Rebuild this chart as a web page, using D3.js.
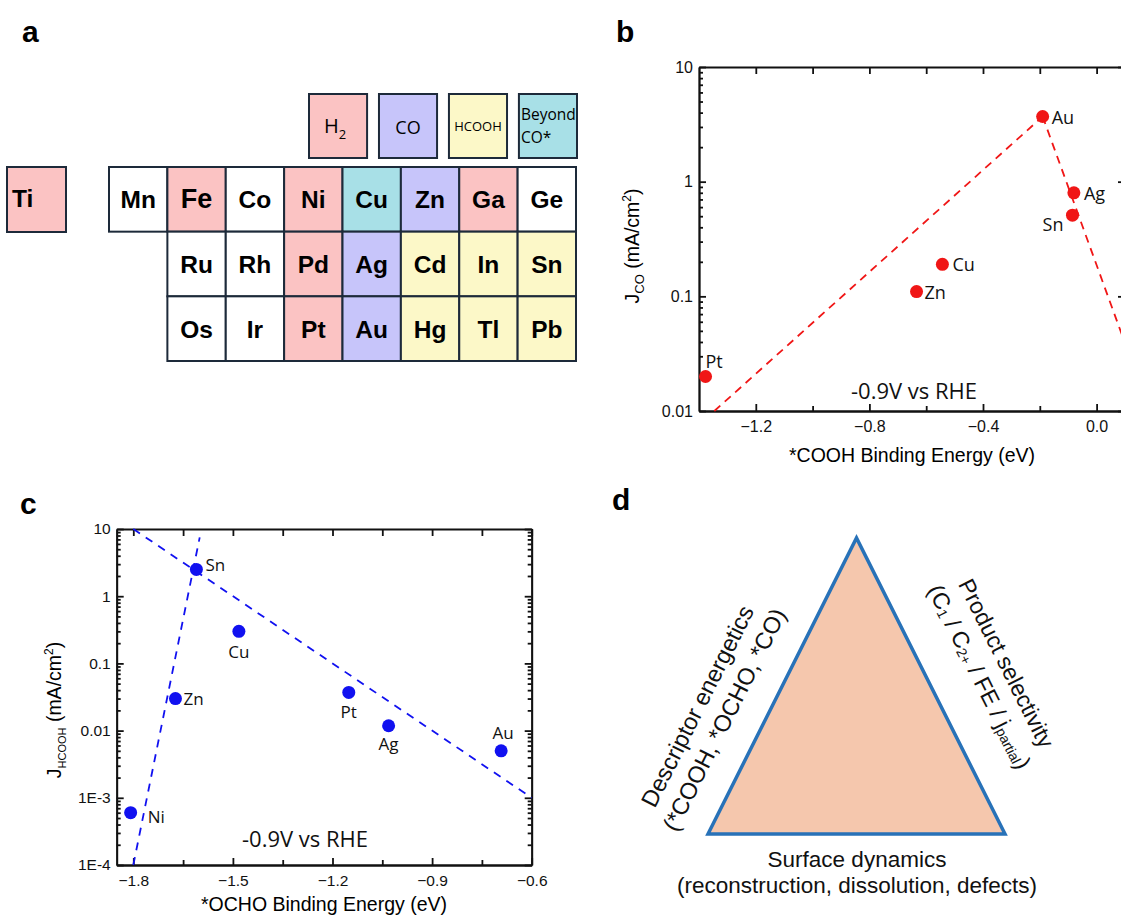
<!DOCTYPE html>
<html>
<head>
<meta charset="utf-8">
<script src="https://cdn.jsdelivr.net/npm/d3@7"></script>
<style>
  body { margin: 0; background: #fff; }
  svg { display: block; font-family: "Liberation Sans", Arial, sans-serif; }
  .axis path, .axis line { stroke: #111; stroke-width: 1.8; }
  .axis text { fill: #111; font-family: "Liberation Sans", Arial, sans-serif; }
  .lbl { font-family: "Open Sans", sans-serif; fill: #111; }
</style>
</head>
<body>
<div id="chart"></div>
<script>
// ---- panel a : periodic table ----
const productNames = ["H2", "CO", "HCOOH", "Beyond CO*"];
const productColors = ["#fbc3c3", "#c7c5fa", "#fcf8c8", "#a8e0e7"];
const tableRows = [
  ["Mn", "Fe", "Co", "Ni", "Cu", "Zn", "Ga", "Ge"],
  ["", "Ru", "Rh", "Pd", "Ag", "Cd", "In", "Sn"],
  ["", "Os", "Ir", "Pt", "Au", "Hg", "Tl", "Pb"]
];
const tableProducts = [
  [null, "H2", null, "H2", "Beyond CO*", "CO", "H2", null],
  [null, null, null, "H2", "CO", "HCOOH", "HCOOH", "HCOOH"],
  [null, null, null, "H2", "CO", "HCOOH", "HCOOH", "HCOOH"]
];
const sideElement = "Ti";
const sideProduct = "H2";

// ---- panel b : CO partial current vs *COOH binding ----
const coMetals = ["Au", "Ag", "Sn", "Cu", "Zn", "Pt"];
const coBinding = [-0.19, -0.08, -0.085, -0.543, -0.634, -1.377];
const coCurrent = [3.7, 0.80, 0.51, 0.19, 0.11, 0.020];
const coTrendX = [[-1.346, -0.19], [-0.19, 0.1]];
const coTrendY = [[0.01, 3.7], [3.7, 0.039]];
const coXTicks = [-1.2, -0.8, -0.4, 0.0];
const coYTicks = [0.01, 0.1, 1, 10];
const coYTickLabels = ["0.01", "0.1", "1", "10"];

// ---- panel c : HCOOH partial current vs *OCHO binding ----
const hcMetals = ["Sn", "Cu", "Zn", "Ni", "Pt", "Ag", "Au"];
const ochoBinding = [-1.61, -1.482, -1.673, -1.808, -1.151, -1.031, -0.692];
const hcCurrent = [2.5, 0.30, 0.030, 0.0006, 0.037, 0.0118, 0.005];
const hcTrendX = [[-1.8, -0.6], [-1.8, -1.60]];
const hcTrendY = [[10, 0.001], [0.0001, 7.5]];
const hcXTicks = [-1.8, -1.5, -1.2, -0.9, -0.6];
const hcYTicks = [0.0001, 0.001, 0.01, 0.1, 1, 10];
const hcYTickLabels = ["1E-4", "1E-3", "0.01", "0.1", "1", "10"];

const W = 1121, H = 916;
const svg = d3.select("#chart").append("svg")
  .attr("width", W).attr("height", H);

// panel letters
[["a", 22, 42], ["b", 616, 42], ["c", 20, 514], ["d", 612, 510]].forEach(p => {
  svg.append("text").attr("x", p[1]).attr("y", p[2])
    .attr("font-size", 30).attr("font-weight", "bold").text(p[0]);
});

// ================= panel a =================
const colorOf = d3.scaleOrdinal().domain(productNames).range(productColors);
const cellStroke = "#1d2a3a";

const legX = d3.scaleBand().domain(productNames).range([309, 577]).paddingInner(0.17);
const leg = svg.append("g").selectAll("g").data(productNames).enter().append("g")
  .attr("transform", d => "translate(" + legX(d) + ",94)");
leg.append("rect")
  .attr("width", legX.bandwidth()).attr("height", 64)
  .attr("fill", d => colorOf(d)).attr("stroke", cellStroke).attr("stroke-width", 2);

const bw = legX.bandwidth();
let t = leg.filter(d => d == "H2").append("text").attr("x", bw / 2 - 3).attr("y", 39)
  .attr("text-anchor", "middle").attr("font-size", 20).attr("font-family", "Open Sans");
t.append("tspan").text("H");
t.append("tspan").attr("dy", 6).attr("font-size", 13).text("2");
leg.filter(d => d == "CO").append("text").attr("x", bw / 2).attr("y", 40)
  .attr("text-anchor", "middle").attr("font-size", 18).attr("font-family", "Open Sans").text("CO");
leg.filter(d => d == "HCOOH").append("text").attr("x", bw / 2).attr("y", 37)
  .attr("text-anchor", "middle").attr("font-size", 13).attr("font-family", "Open Sans").text("HCOOH");
t = leg.filter(d => d == "Beyond CO*").append("text").attr("font-size", 15.5).attr("font-family", "Open Sans");
t.append("tspan").attr("x", 2).attr("y", 26).text("Beyond");
t.append("tspan").attr("x", 2).attr("y", 49).text("CO*");

const colX = d3.scaleBand().domain(d3.range(8)).range([109, 576]);
const rowY = d3.scaleBand().domain(d3.range(3)).range([167, 361]);
const cells = [];
tableRows.forEach((row, r) => row.forEach((el, c) => {
  if (el) cells.push({ el: el, r: r, c: c, p: tableProducts[r][c] });
}));
const cell = svg.append("g").selectAll("g").data(cells).enter().append("g")
  .attr("transform", d => "translate(" + colX(d.c) + "," + rowY(d.r) + ")");
cell.append("rect")
  .attr("width", colX.bandwidth()).attr("height", rowY.bandwidth())
  .attr("fill", d => d.p ? colorOf(d.p) : "#fff")
  .attr("stroke", cellStroke).attr("stroke-width", 2);
cell.append("text")
  .attr("x", colX.bandwidth() / 2).attr("y", rowY.bandwidth() / 2 + 9)
  .attr("text-anchor", "middle")
  .attr("font-size", d => d.el == "Fe" ? 27 : 24.5).attr("font-weight", "bold")
  .text(d => d.el);

const side = svg.append("g").attr("transform", "translate(7,167)");
side.append("rect").attr("width", 59).attr("height", 65)
  .attr("fill", colorOf(sideProduct)).attr("stroke", cellStroke).attr("stroke-width", 2);
side.append("text").attr("x", 5).attr("y", 40)
  .attr("font-size", 24.5).attr("font-weight", "bold").text(sideElement);

// ================= scatter panels =================
function minorLogTicks(domain) {
  const out = [];
  const lo = Math.round(Math.log10(domain[0])), hi = Math.round(Math.log10(domain[1]));
  for (let e = lo; e < hi; e++) {
    for (let k = 2; k <= 9; k++) out.push(k * Math.pow(10, e));
  }
  return out;
}

function drawPlot(o) {
  const g = svg.append("g");
  const x = d3.scaleLinear().domain(o.xDomain).range(o.xRange);
  const y = d3.scaleLog().domain(o.yDomain).range(o.yRange);
  const [x0, x1] = o.xRange, [y0, y1] = o.yRange;

  // bottom axis with labels
  g.append("g").attr("class", "axis").attr("transform", "translate(0," + y0 + ")")
    .call(d3.axisBottom(x).tickValues(o.xTicks).tickSize(-7).tickSizeOuter(0)
      .tickPadding(10).tickFormat(d3.format(".1f")))
    .call(a => a.attr("font-size", o.tickFont).selectAll("text").attr("font-size", o.tickFont));
  g.append("g").attr("class", "axis").attr("transform", "translate(0," + y0 + ")")
    .call(d3.axisBottom(x).tickValues(o.xMinor).tickSize(-5).tickSizeOuter(0).tickFormat(""));
  // top axis
  g.append("g").attr("class", "axis").attr("transform", "translate(0," + y1 + ")")
    .call(d3.axisTop(x).tickValues(o.xTicks.concat(o.xMinor)).tickSize(-7).tickSizeOuter(0).tickFormat(""));

  // left axis
  g.append("g").attr("class", "axis").attr("transform", "translate(" + x0 + ",0)")
    .call(d3.axisLeft(y).tickValues(o.yTicks).tickSize(-7).tickSizeOuter(0).tickPadding(6)
      .tickFormat((d, i) => o.yTickLabels[i]))
    .call(a => a.attr("font-size", o.tickFont).selectAll("text").attr("font-size", o.tickFont));
  g.append("g").attr("class", "axis").attr("transform", "translate(" + x0 + ",0)")
    .call(d3.axisLeft(y).tickValues(minorLogTicks(o.yDomain)).tickSize(-4).tickSizeOuter(0).tickFormat(""));
  // right axis
  g.append("g").attr("class", "axis").attr("transform", "translate(" + x1 + ",0)")
    .call(d3.axisRight(y).tickValues(o.yTicks).tickSize(-7).tickSizeOuter(0).tickFormat(""));
  g.append("g").attr("class", "axis").attr("transform", "translate(" + x1 + ",0)")
    .call(d3.axisRight(y).tickValues(minorLogTicks(o.yDomain)).tickSize(-4).tickSizeOuter(0).tickFormat(""));

  // trend lines
  const line = d3.line().x(d => x(d[0])).y(d => y(d[1]));
  o.trendX.forEach((tx, i) => {
    g.append("path")
      .attr("d", line(tx.map((v, j) => [v, o.trendY[i][j]])))
      .attr("fill", "none").attr("stroke", o.color).attr("stroke-width", 1.8)
      .attr("stroke-dasharray", o.dash);
  });

  // points
  const pts = o.names.map((n, i) => ({ n: n, x: o.xs[i], y: o.ys[i], off: o.labelOff[i] }));
  g.selectAll("circle.pt").data(pts).enter().append("circle")
    .attr("cx", d => x(d.x)).attr("cy", d => y(d.y)).attr("r", o.r)
    .attr("fill", o.color);
  g.selectAll("text.pl").data(pts).enter().append("text")
    .attr("class", "lbl")
    .attr("x", d => x(d.x) + d.off[0]).attr("y", d => y(d.y) + d.off[1])
    .attr("text-anchor", d => d.off[2]).attr("dominant-baseline", "central")
    .attr("font-size", o.labelFont).text(d => d.n);

  // condition note
  g.append("text").attr("class", "lbl")
    .attr("x", o.note[0]).attr("y", o.note[1]).attr("text-anchor", "middle")
    .attr("dominant-baseline", "central").attr("font-size", 22).text("-0.9V vs RHE");

  // axis titles
  g.append("text").attr("x", o.xTitlePos[0]).attr("y", o.xTitlePos[1])
    .attr("text-anchor", "middle").attr("font-size", 19.5).text(o.xTitle);
  const yt = g.append("text")
    .attr("transform", "translate(" + o.yTitlePos[0] + "," + o.yTitlePos[1] + ") rotate(-90)")
    .attr("text-anchor", "middle").attr("font-size", 19.5);
  yt.append("tspan").text("J");
  yt.append("tspan").attr("dy", 5).attr("font-size", o.subFont).text(o.ySub);
  yt.append("tspan").attr("dy", -5).text(" (mA/cm");
  yt.append("tspan").attr("dy", -8).attr("font-size", 12).text("2");
  yt.append("tspan").attr("dy", 8).text(")");
}

drawPlot({
  xDomain: [-1.4, 0.1], xRange: [699, 1125],
  yDomain: [0.01, 10], yRange: [411, 67],
  xTicks: coXTicks, xMinor: [-1.0, -0.6, -0.2],
  yTicks: coYTicks, yTickLabels: coYTickLabels,
  names: coMetals, xs: coBinding, ys: coCurrent,
  labelOff: [[9, 0, "start"], [10, 0, "start"], [-9, 9, "end"], [10, 0, "start"], [8, 0, "start"], [0, -15, "start"]],
  trendX: coTrendX, trendY: coTrendY,
  color: "#f01616", dash: "8,6", r: 6.5, labelFont: 18, tickFont: 16,
  note: [914, 390], xTitle: "*COOH Binding Energy (eV)", xTitlePos: [912, 462],
  yTitlePos: [639, 246], ySub: "CO", subFont: 13
});

drawPlot({
  xDomain: [-1.85, -0.6], xRange: [116.7, 531.7],
  yDomain: [0.0001, 10], yRange: [865, 529],
  xTicks: hcXTicks, xMinor: [-1.65, -1.35, -1.05, -0.75],
  yTicks: hcYTicks, yTickLabels: hcYTickLabels,
  names: hcMetals, xs: ochoBinding, ys: hcCurrent,
  labelOff: [[9, -5, "start"], [0, 20, "middle"], [8, 0, "start"], [17, 4, "start"], [0, 19, "middle"], [0, 18, "middle"], [2, -18, "middle"]],
  trendX: hcTrendX, trendY: hcTrendY,
  color: "#1111f0", dash: "8,7", r: 6.5, labelFont: 17, tickFont: 15.5,
  note: [305, 838], xTitle: "*OCHO Binding Energy (eV)", xTitlePos: [324, 911],
  yTitlePos: [61, 710], ySub: "HCOOH", subFont: 11
});

// ================= panel d =================
const triX = d3.scaleLinear().domain([0, 1]).range([708, 1005]);
const triY = d3.scaleLinear().domain([0, 1]).range([834, 538]);
const corners = [[0, 0], [0.5, 1], [1, 0]];
svg.append("path")
  .attr("d", d3.line().x(d => triX(d[0])).y(d => triY(d[1]))(corners) + "Z")
  .attr("fill", "#f5c7ad").attr("stroke", "#2872b8").attr("stroke-width", 3.5)
  .attr("stroke-linejoin", "miter");

function dText(sel, size) {
  return sel.attr("font-family", "Liberation Sans, Arial, sans-serif")
    .attr("font-size", size || 22.5).attr("fill", "#111");
}

dText(svg.append("text").attr("x", 857).attr("y", 867).attr("text-anchor", "middle")).text("Surface dynamics");
dText(svg.append("text").attr("x", 857).attr("y", 893).attr("text-anchor", "middle")).text("(reconstruction, dissolution, defects)");

const lg = svg.append("g").attr("transform", "translate(711,713) rotate(-63.3)");
dText(lg.append("text").attr("y", -15).attr("text-anchor", "middle").attr("dominant-baseline", "central"), 23.5).text("Descriptor energetics");
dText(lg.append("text").attr("y", 15).attr("text-anchor", "middle").attr("dominant-baseline", "central"), 23.5).text("(*COOH, *OCHO, *CO)");

const rg = svg.append("g").attr("transform", "translate(993,670) rotate(63.4)");
dText(rg.append("text").attr("y", -15).attr("text-anchor", "middle").attr("dominant-baseline", "central"), 23).text("Product selectivity");
const r2 = dText(rg.append("text").attr("y", 15).attr("text-anchor", "middle").attr("dominant-baseline", "central"), 23);
r2.append("tspan").text("(C");
r2.append("tspan").attr("dy", 5).attr("font-size", 14).text("1");
r2.append("tspan").attr("dy", -5).text(" / C");
r2.append("tspan").attr("dy", 5).attr("font-size", 14).text("2+");
r2.append("tspan").attr("dy", -5).text(" / FE / j");
r2.append("tspan").attr("dy", 5).attr("font-size", 14).text("partial");
r2.append("tspan").attr("dy", -5).text(")");
</script>
</body>
</html>
